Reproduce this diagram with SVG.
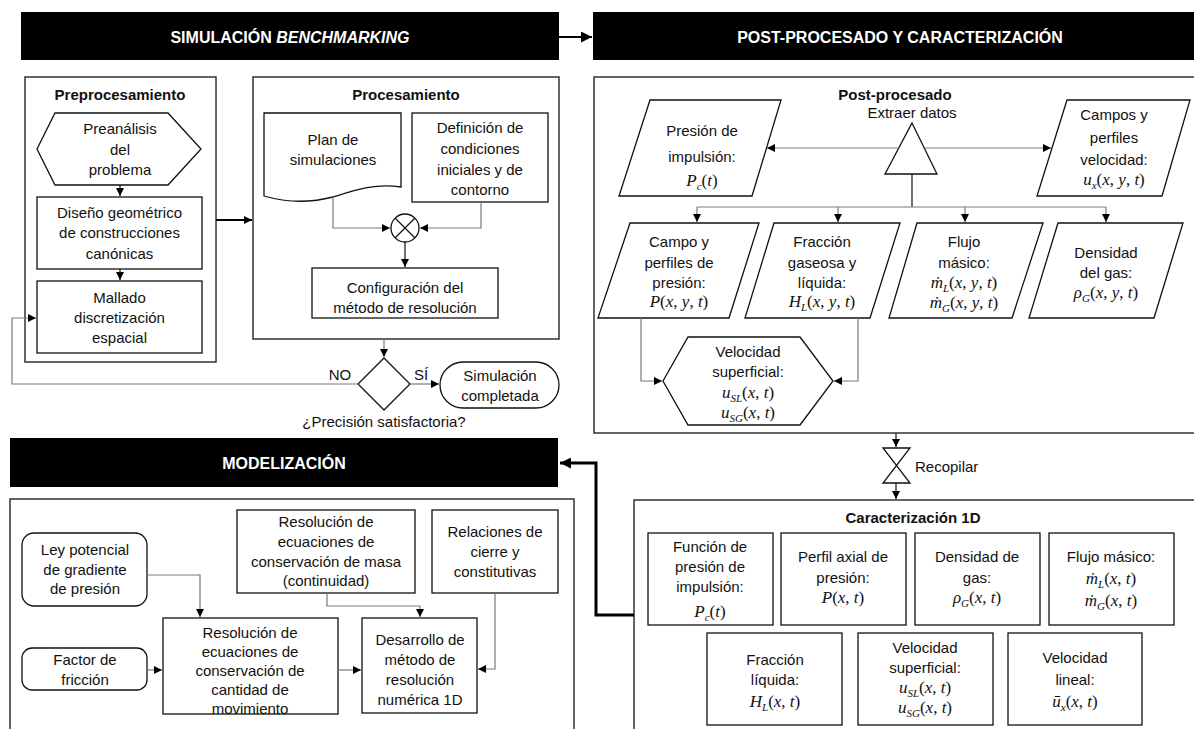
<svg xmlns="http://www.w3.org/2000/svg" width="1194" height="729" viewBox="0 0 1194 729">
<style>
.t{font-family:"Liberation Sans",Arial,sans-serif;font-size:15px;text-anchor:middle;fill:#111}
.b{font-weight:bold}
.h{font-family:"Liberation Sans",Arial,sans-serif;font-size:16px;font-weight:bold;fill:#fff;text-anchor:middle}
.m{font-family:"Liberation Serif","Times New Roman",serif;font-size:17px;text-anchor:middle;fill:#111}
.i{font-style:italic}
.s{font-size:11px;font-style:italic}
.n{fill:#fff;stroke:#111;stroke-width:1.3}
.c{fill:none;stroke:#333;stroke-width:1.5}
.k{fill:none;stroke:#7a7a7a;stroke-width:1.2}
.kb{fill:none;stroke:#111;stroke-width:1.2}
.thick{fill:none;stroke:#000;stroke-width:2}
.hdr{fill:#000}
</style>
<defs>
<marker id="ar" viewBox="0 0 10 10" refX="10" refY="5" markerWidth="8" markerHeight="8" markerUnits="userSpaceOnUse" orient="auto"><path d="M0,0 L10,5 L0,10 z" fill="#000"/></marker>
<marker id="arB" viewBox="0 0 10 10" refX="10" refY="5" markerWidth="11" markerHeight="11" markerUnits="userSpaceOnUse" orient="auto"><path d="M0,0 L10,5 L0,10 z" fill="#000"/></marker>
</defs>
<rect width="1194" height="729" fill="#fff"/>

<!-- Headers -->
<g id="header-simulacion">
<rect class="hdr" x="21" y="12" width="538" height="48"/>
<text class="h" x="290" y="43">SIMULACIÓN <tspan font-style="italic">BENCHMARKING</tspan></text>
</g>
<g id="header-post">
<rect class="hdr" x="593" y="12" width="620" height="48"/>
<text class="h" x="900" y="43">POST-PROCESADO Y CARACTERIZACIÓN</text>
</g>
<g id="header-modelizacion">
<rect class="hdr" x="10" y="438" width="548" height="49"/>
<text class="h" x="284" y="469">MODELIZACIÓN</text>
</g>

<!-- Containers -->
<g id="preprocesamiento">
<rect class="c" x="25" y="77" width="191" height="285"/>
<text class="t b" x="120" y="100">Preprocesamiento</text>
</g>
<g id="procesamiento">
<rect class="c" x="253" y="77" width="306" height="262"/>
<text class="t b" x="406" y="100">Procesamiento</text>
</g>
<g id="post-procesado">
<rect class="c" x="594" y="77" width="620" height="356"/>
<text class="t b" x="895" y="100">Post-procesado</text>
</g>
<g id="caracterizacion">
<rect class="c" x="634" y="500" width="580" height="250"/>
<text class="t b" x="913" y="523">Caracterización 1D</text>
</g>
<g id="modelizacion">
<rect class="c" x="10" y="499" width="564" height="250"/>
</g>

<!-- Preprocesamiento nodes -->
<g id="preanalisis">
<polygon class="n" points="37,149 55,113 168,113 201,149 168,185 55,185"/>
<text class="t" x="120" y="134">Preanálisis</text>
<text class="t" x="120" y="155">del</text>
<text class="t" x="120" y="175">problema</text>
</g>
<g id="diseno">
<rect class="n" x="37" y="197" width="165" height="72"/>
<text class="t" x="119.5" y="218">Diseño geométrico</text>
<text class="t" x="119.5" y="238">de construcciones</text>
<text class="t" x="119.5" y="259">canónicas</text>
</g>
<g id="mallado">
<rect class="n" x="37" y="281" width="165" height="72"/>
<text class="t" x="119.5" y="303">Mallado</text>
<text class="t" x="119.5" y="323">discretización</text>
<text class="t" x="119.5" y="343">espacial</text>
</g>

<!-- Procesamiento nodes -->
<g id="plan">
<path class="n" d="M264,113 H401 V187 C375,183 355,190 333,197 C310,203 285,202 264,196 Z"/>
<text class="t" x="333" y="145">Plan de</text>
<text class="t" x="333" y="165">simulaciones</text>
</g>
<g id="definicion">
<rect class="n" x="412" y="113" width="136" height="89"/>
<text class="t" x="480" y="133">Definición de</text>
<text class="t" x="480" y="154">condiciones</text>
<text class="t" x="480" y="175">iniciales y de</text>
<text class="t" x="480" y="195">contorno</text>
</g>
<g id="union">
<circle class="n" cx="405" cy="228" r="14"/>
<path class="kb" d="M395,218 L415,238 M415,218 L395,238"/>
</g>
<g id="configuracion">
<rect class="n" x="312" y="268" width="186" height="50"/>
<text class="t" x="405" y="293">Configuración del</text>
<text class="t" x="405" y="313">método de resolución</text>
</g>
<g id="decision">
<polygon class="n" points="384,358 410,384 384,410 358,384"/>
<text class="t" x="384" y="427">¿Precisión satisfactoria?</text>
</g>
<g id="simulacion-completada">
<rect class="n" x="440" y="362" width="119" height="46" rx="23"/>
<text class="t" x="500" y="381">Simulación</text>
<text class="t" x="500" y="401">completada</text>
</g>

<!-- Post-procesado nodes -->
<g id="extraer">
<polygon class="n" points="912,123 937,174 885,174"/>
<text class="t" x="912" y="118" font-size="14">Extraer datos</text>
</g>
<g id="presion-impulsion">
<polygon class="n" points="650,100 781,100 752,196 619,196"/>
<text class="t" x="702" y="136">Presión de</text>
<text class="t" x="702" y="162">impulsión:</text>
<text class="m" x="702" y="186"><tspan class="i">P</tspan><tspan class="s" dy="4">c</tspan><tspan dy="-4">(</tspan><tspan class="i">t</tspan>)</text>
</g>
<g id="campos-velocidad">
<polygon class="n" points="1067,100 1190,100 1162,196 1037,196"/>
<text class="t" x="1114" y="120">Campos y</text>
<text class="t" x="1114" y="143">perfiles</text>
<text class="t" x="1114" y="165">velocidad:</text>
<text class="m" x="1114" y="185"><tspan class="i">u</tspan><tspan class="s" dy="4">x</tspan><tspan dy="-4">(</tspan><tspan class="i">x</tspan>, <tspan class="i">y</tspan>, <tspan class="i">t</tspan>)</text>
</g>
<g id="campo-presion">
<polygon class="n" points="630,223 759,223 729,318 598,318"/>
<text class="t" x="679" y="247">Campo y</text>
<text class="t" x="679" y="268">perfiles de</text>
<text class="t" x="679" y="288">presión:</text>
<text class="m" x="679" y="307"><tspan class="i">P</tspan>(<tspan class="i">x</tspan>, <tspan class="i">y</tspan>, <tspan class="i">t</tspan>)</text>
</g>
<g id="fraccion-gaseosa">
<polygon class="n" points="774,223 900,223 870,318 745,318"/>
<text class="t" x="822" y="247">Fracción</text>
<text class="t" x="822" y="268">gaseosa y</text>
<text class="t" x="822" y="288">líquida:</text>
<text class="m" x="822" y="307"><tspan class="i">H</tspan><tspan class="s" dy="4">L</tspan><tspan dy="-4">(</tspan><tspan class="i">x</tspan>, <tspan class="i">y</tspan>, <tspan class="i">t</tspan>)</text>
</g>
<g id="flujo-masico">
<polygon class="n" points="917,223 1043,223 1012,318 889,318"/>
<text class="t" x="964" y="247">Flujo</text>
<text class="t" x="964" y="268">másico:</text>
<text class="m" x="964" y="288"><tspan class="i">ṁ</tspan><tspan class="s" dy="4">L</tspan><tspan dy="-4">(</tspan><tspan class="i">x</tspan>, <tspan class="i">y</tspan>, <tspan class="i">t</tspan>)</text>
<text class="m" x="964" y="308"><tspan class="i">ṁ</tspan><tspan class="s" dy="4">G</tspan><tspan dy="-4">(</tspan><tspan class="i">x</tspan>, <tspan class="i">y</tspan>, <tspan class="i">t</tspan>)</text>
</g>
<g id="densidad-gas">
<polygon class="n" points="1058,223 1183,223 1154,318 1029,318"/>
<text class="t" x="1106" y="258">Densidad</text>
<text class="t" x="1106" y="278">del gas:</text>
<text class="m" x="1106" y="298"><tspan class="i">ρ</tspan><tspan class="s" dy="4">G</tspan><tspan dy="-4">(</tspan><tspan class="i">x</tspan>, <tspan class="i">y</tspan>, <tspan class="i">t</tspan>)</text>
</g>
<g id="velocidad-superficial">
<polygon class="n" points="663,381 688,337 800,337 833,381 800,425 688,425"/>
<text class="t" x="748" y="357">Velocidad</text>
<text class="t" x="748" y="377">superficial:</text>
<text class="m" x="748" y="398"><tspan class="i">u</tspan><tspan class="s" dy="4">SL</tspan><tspan dy="-4">(</tspan><tspan class="i">x</tspan>, <tspan class="i">t</tspan>)</text>
<text class="m" x="748" y="418"><tspan class="i">u</tspan><tspan class="s" dy="4">SG</tspan><tspan dy="-4">(</tspan><tspan class="i">x</tspan>, <tspan class="i">t</tspan>)</text>
</g>
<g id="recopilar">
<path class="n" d="M883,448 H910 L883,483 H910 Z"/>
<text class="t" x="915" y="472" style="text-anchor:start">Recopilar</text>
</g>

<!-- Caracterización nodes -->
<g id="funcion-presion">
<rect class="n" x="648" y="533" width="125" height="92"/>
<text class="t" x="710" y="552">Función de</text>
<text class="t" x="710" y="572">presión de</text>
<text class="t" x="710" y="592">impulsión:</text>
<text class="m" x="710" y="617"><tspan class="i">P</tspan><tspan class="s" dy="4">c</tspan><tspan dy="-4">(</tspan><tspan class="i">t</tspan>)</text>
</g>
<g id="perfil-axial">
<rect class="n" x="781" y="533" width="125" height="92"/>
<text class="t" x="843" y="562">Perfil axial de</text>
<text class="t" x="843" y="583">presión:</text>
<text class="m" x="843" y="603"><tspan class="i">P</tspan>(<tspan class="i">x</tspan>, <tspan class="i">t</tspan>)</text>
</g>
<g id="densidad-1d">
<rect class="n" x="915" y="533" width="125" height="92"/>
<text class="t" x="977" y="562">Densidad de</text>
<text class="t" x="977" y="583">gas:</text>
<text class="m" x="977" y="603"><tspan class="i">ρ</tspan><tspan class="s" dy="4">G</tspan><tspan dy="-4">(</tspan><tspan class="i">x</tspan>, <tspan class="i">t</tspan>)</text>
</g>
<g id="flujo-1d">
<rect class="n" x="1049" y="533" width="125" height="92"/>
<text class="t" x="1111" y="562">Flujo másico:</text>
<text class="m" x="1111" y="584"><tspan class="i">ṁ</tspan><tspan class="s" dy="4">L</tspan><tspan dy="-4">(</tspan><tspan class="i">x</tspan>, <tspan class="i">t</tspan>)</text>
<text class="m" x="1111" y="606"><tspan class="i">ṁ</tspan><tspan class="s" dy="4">G</tspan><tspan dy="-4">(</tspan><tspan class="i">x</tspan>, <tspan class="i">t</tspan>)</text>
</g>
<g id="fraccion-liquida">
<rect class="n" x="707" y="633" width="135" height="92"/>
<text class="t" x="775" y="665">Fracción</text>
<text class="t" x="775" y="685">líquida:</text>
<text class="m" x="775" y="707"><tspan class="i">H</tspan><tspan class="s" dy="4">L</tspan><tspan dy="-4">(</tspan><tspan class="i">x</tspan>, <tspan class="i">t</tspan>)</text>
</g>
<g id="velocidad-superficial-1d">
<rect class="n" x="858" y="633" width="135" height="92"/>
<text class="t" x="925" y="653">Velocidad</text>
<text class="t" x="925" y="673">superficial:</text>
<text class="m" x="925" y="693"><tspan class="i">u</tspan><tspan class="s" dy="4">SL</tspan><tspan dy="-4">(</tspan><tspan class="i">x</tspan>, <tspan class="i">t</tspan>)</text>
<text class="m" x="925" y="713"><tspan class="i">u</tspan><tspan class="s" dy="4">SG</tspan><tspan dy="-4">(</tspan><tspan class="i">x</tspan>, <tspan class="i">t</tspan>)</text>
</g>
<g id="velocidad-lineal">
<rect class="n" x="1008" y="633" width="134" height="92"/>
<text class="t" x="1075" y="663">Velocidad</text>
<text class="t" x="1075" y="685">lineal:</text>
<text class="m" x="1075" y="707"><tspan class="i">ū</tspan><tspan class="s" dy="4">x</tspan><tspan dy="-4">(</tspan><tspan class="i">x</tspan>, <tspan class="i">t</tspan>)</text>
</g>

<!-- Modelización nodes -->
<g id="ley-potencial">
<rect class="n" x="22" y="533" width="125" height="73" rx="12"/>
<text class="t" x="85" y="555">Ley potencial</text>
<text class="t" x="85" y="575">de gradiente</text>
<text class="t" x="85" y="594">de presión</text>
</g>
<g id="factor-friccion">
<rect class="n" x="22" y="648" width="125" height="42" rx="10"/>
<text class="t" x="85" y="665">Factor de</text>
<text class="t" x="85" y="685">fricción</text>
</g>
<g id="resolucion-masa">
<rect class="n" x="237" y="510" width="178" height="83"/>
<text class="t" x="326" y="527">Resolución de</text>
<text class="t" x="326" y="547">ecuaciones  de</text>
<text class="t" x="326" y="567">conservación de masa</text>
<text class="t" x="326" y="586">(continuidad)</text>
</g>
<g id="relaciones-cierre">
<rect class="n" x="432" y="510" width="126" height="83"/>
<text class="t" x="495" y="537">Relaciones de</text>
<text class="t" x="495" y="557">cierre y</text>
<text class="t" x="495" y="577">constitutivas</text>
</g>
<g id="resolucion-momento">
<rect class="n" x="163" y="618" width="175" height="96"/>
<text class="t" x="250" y="638">Resolución de</text>
<text class="t" x="250" y="657">ecuaciones  de</text>
<text class="t" x="250" y="676">conservación de</text>
<text class="t" x="250" y="695">cantidad de</text>
<text class="t" x="250" y="714">movimiento</text>
</g>
<g id="desarrollo-metodo">
<rect class="n" x="362" y="618" width="115" height="95"/>
<text class="t" x="420" y="645">Desarrollo de</text>
<text class="t" x="420" y="665">método de</text>
<text class="t" x="420" y="685">resolución</text>
<text class="t" x="420" y="705">numérica 1D</text>
</g>

<!-- Connectors -->
<g id="connectors">
<path class="thick" d="M559,37 H592" marker-end="url(#arB)"/>
<path class="thick" d="M216,220 H252" marker-end="url(#ar)"/>
<path class="kb" d="M120,185 V196" marker-end="url(#ar)"/>
<path class="kb" d="M120,269 V280" marker-end="url(#ar)"/>
<path class="k" d="M333,197 V228 H390" marker-end="url(#ar)"/>
<path class="k" d="M481,202 V228 H420" marker-end="url(#ar)"/>
<path class="kb" d="M405,242 V267" marker-end="url(#ar)"/>
<path class="k" d="M384,339 V357" marker-end="url(#ar)"/>
<path class="k" d="M358,384 H12 V318 H36" marker-end="url(#ar)"/>
<path class="k" d="M410,384 H439" marker-end="url(#ar)"/>
<text class="t" x="340" y="380">NO</text>
<text class="t" x="421" y="380">SÍ</text>

<path class="k" d="M899,148 H767" marker-end="url(#ar)"/>
<path class="k" d="M925,148 H1051" marker-end="url(#ar)"/>
<path class="kb" d="M912,174 V207"/>
<path class="k" d="M697,207 H1106"/>
<path class="k" d="M697,207 V222" marker-end="url(#ar)"/>
<path class="k" d="M838,207 V222" marker-end="url(#ar)"/>
<path class="k" d="M965,207 V222" marker-end="url(#ar)"/>
<path class="k" d="M1106,207 V222" marker-end="url(#ar)"/>
<path class="k" d="M641,318 V381 H662" marker-end="url(#ar)"/>
<path class="k" d="M858,318 V381 H834" marker-end="url(#ar)"/>
<path class="kb" d="M896,433 V447" marker-end="url(#ar)"/>
<path class="kb" d="M896,483 V499" marker-end="url(#ar)"/>

<path fill="none" stroke="#000" stroke-width="3" d="M634,615 H596 V463 H560" marker-end="url(#arB)"/>

<path class="k" d="M147,575 H200 V617" marker-end="url(#ar)"/>
<path class="k" d="M147,670 H162" marker-end="url(#ar)"/>
<path class="k" d="M327,593 V606 H420 V617" marker-end="url(#ar)"/>
<path class="k" d="M495,593 V669 H478" marker-end="url(#ar)"/>
<path class="k" d="M338,670 H361" marker-end="url(#ar)"/>
</g>
</svg>
